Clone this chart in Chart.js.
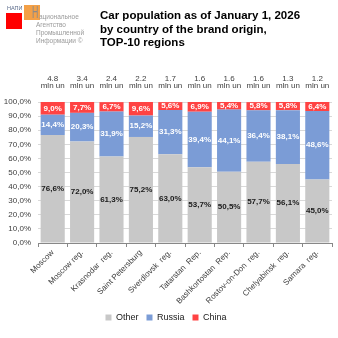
<!DOCTYPE html>
<html>
<head>
<meta charset="utf-8">
<script src="https://cdn.jsdelivr.net/npm/chart.js@4/dist/chart.umd.min.js"></script>
<style>
    body { margin: 0; background: #fff; font-family: Arial, "Liberation Sans", sans-serif; }
    #wrap { position: relative; width: 338px; height: 338px; overflow: hidden; }
    #chart { position: absolute; left: 0; top: 0; }
    .abs { position: absolute; white-space: nowrap; }
    #title { left: 100px; top: 9px; font-size: 11.5px; font-weight: bold; line-height: 13.5px; color: #000; }
    #napi { left: 7px; top: 5px; font-size: 5.5px; color: #5a6a8a; }
    #red { left: 6px; top: 13px; width: 16px; height: 16px; background: #ff0000; }
    #orange { left: 24px; top: 5px; width: 16px; height: 15px; background: #f3a047; }
    #bigH { left: 32px; top: 5px; font-size: 16px; color: #8a8a8a; transform: scaleX(0.55); transform-origin: left top; line-height: 16px; }
    .logoTxt { font-size: 6.5px; color: #9a9a9a; line-height: 8px; }
</style>
</head>
<body>
<div id="wrap">
    <canvas id="chart" width="338" height="338"></canvas>
    <div id="napi" class="abs">НАПИ</div>
    <div id="red" class="abs"></div>
    <div id="orange" class="abs"></div>
    <div id="bigH" class="abs">Н</div>
    <div class="abs logoTxt" style="left:39px;top:13px">ациональное</div>
    <div class="abs logoTxt" style="left:36px;top:21px">Агентство</div>
    <div class="abs logoTxt" style="left:36px;top:29px">Промышленной</div>
    <div class="abs logoTxt" style="left:36px;top:37px">Информации ©</div>
    <div id="title" class="abs">Car population as of January 1, 2026<br>by country of the brand origin,<br>TOP-10 regions</div>
</div>
<script>
// Regions (categories)
const regions = [
    'Moscow', 'Moscow reg.', 'Krasnodar  reg.', 'Saint Petersburg', 'Sverdlovsk  reg.',
    'Tatarstan  Rep.', 'Bashkortostan  Rep.', 'Rostov-on-Don  reg.', 'Chelyabinsk  reg.', 'Samara  reg.'
];

// Shares by brand origin, %
const otherShare  = [76.6, 72.0, 61.3, 75.2, 63.0, 53.7, 50.5, 57.7, 56.1, 45.0];
const russiaShare = [14.4, 20.3, 31.9, 15.2, 31.3, 39.4, 44.1, 36.4, 38.1, 48.6];
const chinaShare  = [9.0, 7.7, 6.7, 9.6, 5.6, 6.9, 5.4, 5.8, 5.8, 6.4];

// Total car population, mln units
const totals = ['4.8', '3.4', '2.4', '2.2', '1.7', '1.6', '1.6', '1.6', '1.3', '1.2'];

const fmtPct = v => v.toFixed(1).replace('.', ',') + '%';

// Draw value labels inside segments and totals above bars
const barLabels = {
    id: 'barLabels',
    afterDatasetsDraw(chart) {
        const ctx = chart.ctx;
        ctx.save();
        ctx.textAlign = 'center';
        ctx.textBaseline = 'middle';
        ctx.font = 'bold 8px Arial';
        chart.data.datasets.forEach((ds, i) => {
            const meta = chart.getDatasetMeta(i);
            meta.data.forEach((bar, j) => {
                ctx.fillStyle = i === 0 ? '#1a1a1a' : '#ffffff';
                ctx.fillText(fmtPct(ds.data[j]), bar.x, (bar.y + bar.base) / 2);
            });
        });
        // totals
        ctx.font = '8px Arial';
        ctx.fillStyle = '#404040';
        const top = chart.chartArea.top;
        totals.forEach((t, j) => {
            const x = chart.scales.x.getPixelForValue(j);
            ctx.fillText(t, x, top - 23);
            ctx.fillText('mln un', x, top - 16);
        });
        ctx.restore();
    }
};

new Chart(document.getElementById('chart'), {
    type: 'bar',
    data: {
        labels: regions,
        datasets: [
            { label: 'Other', data: otherShare, backgroundColor: '#c8c8c8' },
            { label: 'Russia', data: russiaShare, backgroundColor: '#7b9cd6' },
            { label: 'China', data: chinaShare, backgroundColor: '#ff4343' }
        ]
    },
    options: {
        responsive: false,
        animation: false,
        barPercentage: 0.82,
        categoryPercentage: 1,
        layout: { padding: { top: 102, left: 0, right: 6, bottom: 6 } },
        plugins: {
            legend: {
                position: 'bottom',
                labels: {
                    boxWidth: 6,
                    boxHeight: 6,
                    padding: 8,
                    color: '#1a1a1a',
                    font: { size: 9, family: 'Arial' }
                }
            },
            tooltip: { enabled: false }
        },
        scales: {
            x: {
                stacked: true,
                afterFit: scale => { scale.height = 62; },
                grid: {
                    offset: true,
                    drawOnChartArea: false,
                    tickLength: 4,
                    color: '#888'
                },
                border: { color: '#888' },
                ticks: {
                    autoSkip: false,
                    maxRotation: 45,
                    minRotation: 45,
                    padding: 1,
                    color: '#404040',
                    font: { size: 8, family: 'Arial' }
                }
            },
            y: {
                stacked: true,
                min: 0,
                max: 100,
                afterFit: scale => { scale.width = 38; },
                grid: { color: '#d9d9d9', drawTicks: false },
                border: { display: false },
                ticks: {
                    stepSize: 10,
                    padding: 7,
                    color: '#404040',
                    font: { size: 8, family: 'Arial' },
                    callback: v => v.toFixed(1).replace('.', ',') + '%'
                }
            }
        }
    },
    plugins: [barLabels]
});
</script>
</body>
</html>
